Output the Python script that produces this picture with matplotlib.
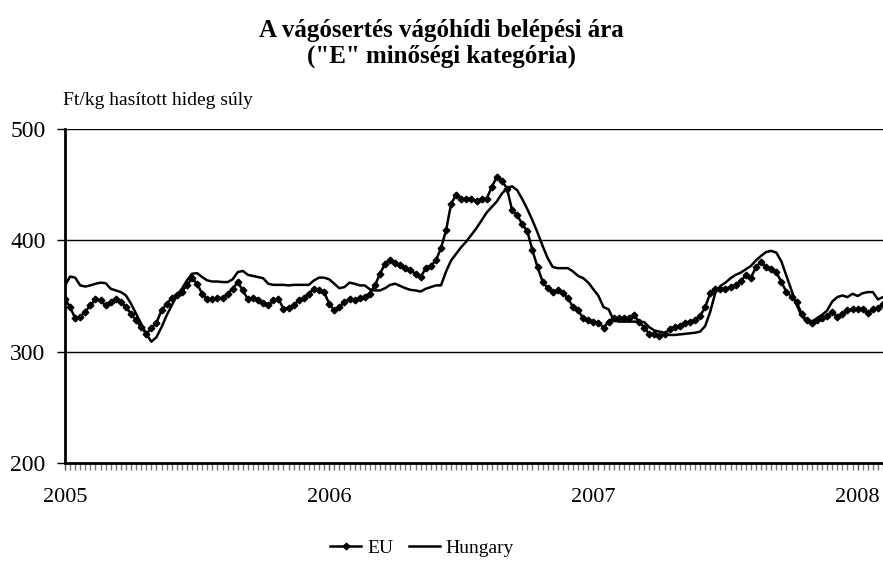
import matplotlib
matplotlib.use("Agg")
import matplotlib.pyplot as plt
import numpy as np

plt.rcParams['font.family'] = ['Liberation Serif', 'DejaVu Serif']

title = 'A vágósertés vágóhídi belépési ára\n("E" minőségi kategória)'
ylabel_text = 'Ft/kg hasított hideg súly'
year_labels = ['2005', '2006', '2007', '2008']
year_weeks = [0, 52, 104, 156]

eu = [347.5, 340, 330, 331, 336, 341.5, 347, 346, 341.5, 345, 347.5, 345, 340, 334, 328, 322, 316, 321, 326, 337,
      343, 348, 350.5, 354, 359.5, 366, 361, 352, 347, 347, 348, 348.5, 352, 356.5, 362.5, 355, 347, 348.5, 346, 344,
      341.5, 346, 347.5, 338.5, 339.5, 341.5, 346, 348.5, 352, 356.5, 355, 353.5, 343, 337, 340, 344.5, 347.5, 346.5, 348.5, 349.5,
      352, 359.5, 370, 379, 382.5, 379.5, 377.5, 375.5, 373, 370, 367, 375, 377, 382, 393, 409, 433, 441, 437.5, 437,
      437, 435.5, 437, 437.5, 448, 457, 453.5, 446.5, 427, 422.5, 414.5, 408, 391, 376, 363, 357, 353.5, 355, 352.5, 348,
      340, 337, 330, 328, 327, 326, 321.5, 327, 330, 330, 330, 330, 332.5, 327, 321.5, 316, 316, 314.5, 316, 320,
      322, 323.5, 326, 327, 328, 332, 340, 352.5, 356, 356.5, 356.5, 358.5, 359.5, 363.5, 368.5, 366.5, 376, 380.5, 376, 374.5,
      371.5, 362.5, 353.5, 349.5, 344.5, 334, 328, 325.5, 328, 330, 332, 335.5, 331.5, 334, 337, 338, 338, 338.5, 334.5, 338,
      339, 343]

hungary = [359.5, 367.5, 366.5, 359.5, 358.5, 359.5, 361, 362, 361.5, 356.5, 355, 353.5, 350.5, 343, 334, 325, 316, 309, 313, 322,
           332.5, 341.5, 350.5, 356.5, 364, 370, 370.5, 367, 364, 363, 363, 362.5, 362.5, 365, 371.5, 372.5, 369, 368, 367, 366,
           361, 360, 360, 360, 359.5, 360, 360, 360, 360, 364, 366.5, 366.5, 365, 361, 357, 358, 362, 361, 359.5, 359.5,
           356, 355, 355, 357, 360, 361, 359, 357, 355.5, 355, 354, 356.5, 358, 359.5, 359.5, 372, 382, 388, 394, 399,
           405, 411, 418, 425, 430, 435, 442, 447, 448.5, 445, 437, 428, 418, 407, 395, 384, 376, 375, 375, 375,
           372, 368, 366, 362, 356, 350, 340, 338, 328, 327, 327, 327, 327, 327, 326.5, 322, 319, 318, 317, 315,
           315, 315.5, 316, 316.5, 317, 318, 323, 336, 353, 359, 362, 366, 369, 371, 374, 377, 382, 386, 389.5, 390.5,
           389, 381, 368, 355, 342, 332, 327, 327, 330, 333, 337, 345, 349, 350.5, 349, 352, 350, 352.5, 353.5, 353.5,
           347, 349]

weeks = np.arange(len(eu))

fig = plt.figure(figsize=(8.83, 5.69), dpi=100)
ax = fig.add_axes([65/883, 1-463/569, 1-65/883, (463-129)/569])

ax.plot(np.arange(len(hungary)), hungary, color='black', lw=1.8, label='Hungary', zorder=3)
ax.plot(weeks, eu, color='black', lw=1.8, marker='D', markersize=3.4, label='EU', zorder=4)

ax.set_xlim(0, 161)
ax.set_ylim(200, 500)
ax.set_yticks([200, 300, 400, 500])
ax.set_yticklabels(['200', '300', '400', '500'], fontsize=17)
for y in [300, 400, 500]:
    ax.axhline(y, color='black', lw=1.0, zorder=1)

ax.set_xticks(np.arange(0, 162), minor=True)
ax.set_xticks(year_weeks)
ax.set_xticklabels(year_labels, fontsize=16)
ax.tick_params(axis='x', which='major', length=5, width=1, pad=13, color='#555555')
ax.tick_params(axis='x', which='minor', length=5, width=1, color='#777777')
ax.tick_params(axis='y', length=6, width=1, pad=8)

for s in ['top', 'right']:
    ax.spines[s].set_visible(False)
ax.spines['left'].set_linewidth(2)
ax.spines['bottom'].set_linewidth(2)

fig.text(0.5, 1-43.5/569, title, ha='center', va='center', fontsize=18, fontweight='bold', linespacing=1.1)
fig.text(63/883, 1-100/569, ylabel_text, ha='left', va='center', fontsize=14)

handles, labels = ax.get_legend_handles_labels()
order = [1, 0]
fig.legend([handles[i] for i in order], [labels[i] for i in order], loc='center', bbox_to_anchor=(422/883, 1-548/569),
           ncol=2, frameon=False, fontsize=14, handlelength=1.6, handletextpad=0.3, columnspacing=0.8)

fig.savefig('out.png', dpi=100)
